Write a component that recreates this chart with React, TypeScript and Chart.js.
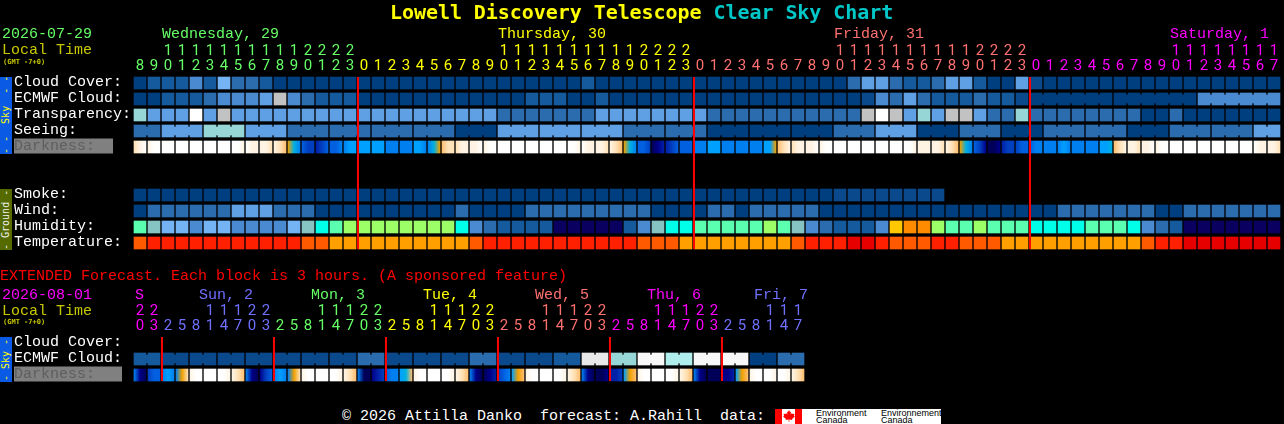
import React, { useEffect, useRef } from "react";
import { Chart, registerables } from "chart.js";

Chart.register(...registerables);

const MONO = '"Liberation Mono", "DejaVu Sans Mono", monospace';
const TITLE = '"DejaVu Sans Mono", monospace';
const DIGITS = 'Roboto, "DejaVu Sans Mono", sans-serif';

const GREEN = "#66ff66";
const YELLOW = "#ffff00";
const SALMON = "#ff7070";
const MAGENTA = "#ff00ff";
const VIOLET = "#7070ff";

// ---------- main forecast: one column per hour ----------
const mainHours = [8,9,10,11,12,13,14,15,16,17,18,19,20,21,22,23,0,1,2,3,4,5,6,7,8,9,10,11,12,13,14,15,16,17,18,19,20,21,22,23,0,1,2,3,4,5,6,7,8,9,10,11,12,13,14,15,16,17,18,19,20,21,22,23,0,1,2,3,4,5,6,7,8,9,10,11,12,13,14,15,16,17];
const mainDayLengths = [16, 24, 24, 18];
const mainDayColors = [GREEN, YELLOW, SALMON, MAGENTA];
const mainMidnights = [15.57, 39.57, 63.57];
const mainRowNames = ["Cloud Cover:", "ECMWF Cloud:", "Transparency:", "Seeing:", "Darkness:  ", "", "", "Smoke:", "Wind:", "Humidity:", "Temperature:"];

const skyPalette = ["#003f7f","#0a4a8c","#155a9c","#2b6cae","#4a8ad0","#5f9fe3","#74b4f4","#c2c2c2","#ffffff","#96d6d6","#e8e8e8","#f8f8f8","#b0eeee"];
const humidityPalette = ["#0a0060","#155a9c","#2b6cae","#4a8ad0","#74b4f4","#86c4c4","#00ffe8","#5affb0","#9cff68","#ffc800","#ff8c00"];
const temperaturePalette = ["#e60000","#ff2000","#ff5a00","#ffa000"];
const darknessPalette = ["#ffffff","#fff4e4","#ffe2b8","#ffbe70","#f0a000","#00b0e0","#00a0ff","#0080f0","#0060e0","#0040c0","#0020a8","#000088","#000058"];

const cloudCover = [0,2,2,2,4,2,6,3,3,2, 0,0,0,0,0,0,0,0,0,0, 0,0,0,0,0,0,0,0,0,0, 0,0,2,0,0,0,0,0,0,0, 0,0,0,0,0,0,0,0,0,0, 0,3,5,5,3,2,2,3,5,5, 2,0,0,5,1,0,0,0,0,0, 0,0,0,0,0,0,0,0,0,0, 0,0];
const ecmwfCloud = [0,0,2,2,2,3,4,4,4,5, 7,4,3,2,2,2,0,0,0,0, 0,0,0,0,0,0,0,0,2,2, 2,0,0,2,0,0,0,0,0,0, 0,0,0,0,0,0,0,0,0,0, 0,0,1,4,3,5,3,2,2,2, 3,2,2,1,0,0,0,0,0,0, 0,0,0,0,0,0,4,4,4,4, 4,4];
const ecmwfBlocks = [1,1,1,1,1,1,1,1,1,1,1,1,1,1,1,1,1,1,1,1,1,1,1,1,1,1,1,1,1,1,1,1,1,1,1,1,1,1,1,1,1,1,1,1,1,1,1,1,1,1,1,1,1,1,1,1,1,1,1,1,1,1,1,1,6,6,6];
const transparency = [9,5,5,5,8,5,7,5,5,5, 5,5,5,5,5,5,5,5,5,5, 5,5,5,5,5,5,3,3,3,3, 3,3,3,5,5,5,5,5,5,5, 5,3,3,3,3,3,3,3,3,3, 3,3,7,8,7,5,9,5,7,7, 5,3,3,9,3,3,3,3,3,3, 3,3,0,0,3,0,0,0,0,0, 0,0];
const seeingBlocks = [2,3,3,3,3,3,3,3,3,3,3,3,3,3,3,3,3,3,3,3,3,3,3,3,3,3,3,2];
const seeingLevels = [3,5,9,5,3,3,3,3,0,5,5,5,3,3,0,0,0,3,5,0,3,0,3,3,0,3,3,5];
const smoke = [0,0,0,0,0,0,0,0,0,0, 0,0,0,0,0,0,0,0,0,0, 0,0,0,0,0,0,0,0,0,0, 0,0,0,0,0,0,0,0,0,0, 0,0,0,0,0,0,0,0,0,0, 1,1,1,1,1,1,1,1];
const wind = [0,3,3,3,3,3,3,5,5,5, 3,3,3,0,0,0,0,0,0,0, 0,0,0,3,0,0,0,0,3,3, 3,3,3,3,3,3,3,0,0,0, 0,3,3,0,3,3,3,3,3,0, 0,0,0,0,0,0,0,0,0,0, 0,0,0,0,0,0,3,3,3,3, 3,3,3,0,0,3,3,3,3,3, 3,3];
const humidity = [7,5,4,4,3,4,4,3,3,3, 3,4,5,6,7,8,8,8,8,8, 8,8,8,6,3,2,1,1,1,1, 0,0,0,0,0,1,3,5,6,6, 7,7,7,7,7,8,7,5,3,2, 1,1,1,3,9,10,10,8,7,7, 8,7,7,7,6,6,6,6,7,7, 7,6,3,2,1,0,0,0,0,0, 0,0];
const temperature = [2,1,1,1,1,1,1,1,1,1, 1,1,2,2,3,3,3,3,3,3, 3,3,3,3,2,1,1,1,1,1, 1,1,1,1,1,1,2,2,2,3, 3,3,3,3,3,3,3,2,1,1, 1,0,0,1,2,2,2,1,1,2, 2,2,3,3,3,3,3,3,3,3, 3,3,2,1,1,0,0,0,0,0, 0,0];
// Left, middle and right of every darkness cell, as darknessPalette levels.
const darkness = [
  [2,1,0],[1,0,0],[0,0,0],[0,0,0],[0,0,0],[0,0,0],[0,0,0],[0,0,1],[0,1,1],[1,1,2],[1,2,3],[4,5,7],[8,9,9],[10,9,8],[8,8,7],[7,6,6],
  [6,6,6],[6,6,6],[7,7,7],[7,7,7],[6,6,7],[7,5,4],[3,2,2],[2,1,1],[1,1,0],[1,0,0],[0,0,0],[0,0,0],[0,0,0],[0,0,0],[0,0,0],[0,0,1],[0,1,1],[1,1,2],[1,2,3],[4,5,7],[8,8,9],[12,11,10],[10,9,8],[8,8,8],
  [7,7,7],[6,6,6],[7,7,7],[7,7,7],[7,7,7],[6,6,4],[3,2,1],[2,1,1],[1,1,0],[1,0,0],[0,0,0],[0,0,0],[0,0,0],[0,0,0],[0,0,0],[0,0,1],[1,1,1],[1,1,2],[1,2,3],[4,5,7],[8,9,11],[12,12,11],[10,9,9],[9,8,8],
  [8,7,7],[7,7,7],[7,6,7],[7,7,7],[7,7,7],[6,6,5],[3,2,1],[1,1,2],[1,1,0],[1,0,0],[0,0,0],[0,0,0],[0,0,0],[0,0,0],[0,0,0],[0,0,0],[0,1,1],[1,1,2],
];

// ---------- extended forecast: one column per 3-hour step ----------
const extHours = [20,23,2,5,8,11,14,17,20,23,2,5,8,11,14,17,20,23,2,5,8,11,14,17,20,23,2,5,8,11,14,17,20,23,2,5,8,11,14,17,20,23,2,5,8,11,14,17];
const extDayLengths = [2, 8, 8, 8, 8, 8, 6];
const extDayColors = [MAGENTA, VIOLET, GREEN, YELLOW, SALMON, MAGENTA, VIOLET];
const extMidnights = [1.57, 9.57, 17.57, 25.57, 33.57, 41.57];
const extRowNames = ["Cloud Cover:", "ECMWF Cloud:", "Darkness:   "];
const extBlocks = [2,2,2,2,2,2,2,2,2,2,2,2,2,2,2,2,2,2,2,2,2,2,2,2];
const extCloudLevels = [2,1,1,1,1,1,1,1,3,1,1,1,3,1,1,2,10,9,11,12,11,11,0,3];
const extDarkness = [
  [7,11,12],[9,8,8],[7,6,7],[7,4,2],[1,0,0],[0,0,0],[0,0,1],[1,2,3],
  [7,11,12],[11,9,8],[7,6,7],[7,4,2],[1,0,0],[0,0,0],[0,0,1],[1,2,3],
  [7,12,12],[11,10,9],[8,7,7],[6,5,3],[1,0,0],[0,0,0],[0,0,1],[1,2,3],
  [7,11,12],[12,11,10],[9,8,7],[6,4,3],[1,0,0],[0,0,0],[0,0,1],[1,2,3],
  [7,11,12],[12,12,11],[10,10,9],[6,4,3],[1,0,0],[0,0,0],[0,0,1],[1,2,3],
  [7,11,12],[12,12,12],[11,11,10],[6,4,3],[1,0,0],[0,0,1],[0,0,1],[1,2,3],
];

function expand(blocks: number[], levels: any[]) {
  const out: any[] = [];
  blocks.forEach((n, b) => { for (let k = 0; k < n; k++) out.push(levels[b]); });
  return out;
}

const CELL = 0.375;
const LINK = 0.25;

function cellRow(row: number, levels: number[], palette: string[]) {
  return {
    type: "bar",
    order: 2,
    barThickness: 12,
    backgroundColor: levels.map((l) => palette[l]),
    data: levels.map((_, i) => ({ x: i, y: [row - CELL, row + CELL] })),
  };
}

function linkRow(row: number, blocks: number[], levels: number[], palette: string[]) {
  const data: any[] = [];
  const colors: string[] = [];
  let col = 0;
  blocks.forEach((n, b) => {
    for (let k = 0; k < n - 1; k++) {
      data.push({ x: col + k + 0.5, y: [row - LINK, row + LINK] });
      colors.push(palette[levels[b]]);
    }
    col += n;
  });
  return { type: "bar", order: 2, barThickness: 2, backgroundColor: colors, data };
}

function darknessRow(row: number, samples: number[][]) {
  return {
    type: "bar",
    order: 2,
    barThickness: 12,
    backgroundColor: (c: any) => {
      const s = samples[c.dataIndex];
      const sx = c.chart.scales.x;
      if (!s || !sx || !isFinite(sx.left)) return darknessPalette[0];
      const mid = sx.getPixelForValue(c.dataIndex);
      const g = c.chart.ctx.createLinearGradient(mid - 6, 0, mid + 6, 0);
      s.forEach((l, i) => g.addColorStop(i / (s.length - 1), darknessPalette[l]));
      return g;
    },
    data: samples.map((_, i) => ({ x: i, y: [row - CELL, row + CELL] })),
  };
}

function midnightLines(cols: number[], lastRow: number) {
  return cols.map((x) => ({
    type: "line",
    order: 0,
    borderColor: "#ff0000",
    borderWidth: 2,
    pointRadius: 0,
    data: [{ x, y: -CELL }, { x, y: lastRow + CELL }],
  }));
}

function makeChart(canvas: HTMLCanvasElement, hours: number[], tickColors: string[], rowNames: string[], datasets: any[]) {
  const rows = rowNames.length;
  const columns = hours.length;
  const darkRow = rowNames.findIndex((n) => n.startsWith("Darkness"));
  return new Chart(canvas, {
    type: "bar",
    data: { datasets },
    options: {
      animation: false,
      responsive: false,
      devicePixelRatio: 1,
      layout: { autoPadding: false, padding: { left: 14, top: 0, bottom: 0, right: 1284 - 133 - columns * 14 } },
      plugins: { legend: { display: false }, tooltip: { enabled: false }, title: { display: false } },
      datasets: { bar: { grouped: false, borderWidth: 0 } },
      scales: {
        x: {
          type: "linear",
          position: "top",
          offset: false,
          min: -0.5,
          max: columns - 0.5,
          grid: { display: false, offset: false, drawTicks: false },
          border: { display: false },
          afterBuildTicks: (s: any) => { s.ticks = hours.map((_, i) => ({ value: i })); },
          afterFit: (s: any) => { s.height = 75; s.paddingLeft = 0; s.paddingRight = 0; },
          ticks: {
            autoSkip: false,
            maxRotation: 0,
            minRotation: 0,
            padding: 1,
            font: { family: DIGITS, size: 15, weight: "400", lineHeight: 1 },
            color: (c: any) => tickColors[c.index],
            callback: (_v: any, i: number) => {
              const h = hours[i];
              return [h >= 10 ? String(Math.floor(h / 10)) : " ", String(h % 10)];
            },
          },
        },
        y: { type: "linear", display: false, reverse: true, offset: false, min: -0.5, max: rows - 0.5 },
        rowLabels: {
          type: "linear",
          position: "left",
          reverse: true,
          offset: false,
          min: -0.4375,
          max: rows - 0.4375,
          grid: { display: false, drawTicks: false },
          border: { display: false },
          afterBuildTicks: (s: any) => { s.ticks = rowNames.map((_, i) => ({ value: i })); },
          afterFit: (s: any) => { s.width = 119; s.paddingTop = 0; s.paddingBottom = 0; },
          ticks: {
            autoSkip: false,
            crossAlign: "far",
            padding: 0,
            font: { family: MONO, size: 15, lineHeight: 1 },
            color: (c: any) => (c.index === darkRow ? "#5e5e5e" : "#ffffff"),
            showLabelBackdrop: (c: any) => c.index === darkRow,
            backdropColor: "#808080",
            backdropPadding: { top: 0, bottom: 0, left: 0, right: 0 },
            callback: (v: any) => rowNames[v],
          },
        },
      },
    } as any,
  });
}

function Txt({ x, cy, color, size = 15, bold, family = MONO, text }: any) {
  return (
    <div style={{ position: "absolute", left: x, top: cy - size / 2 - 1, height: size + 2, lineHeight: `${size + 2}px`, color, fontFamily: family, fontSize: size, fontWeight: bold ? 700 : 400, whiteSpace: "pre" }}>
      {text}
    </div>
  );
}

function SideTag({ top, height, bg, color, text }: any) {
  return (
    <div style={{ position: "absolute", left: 0, top, width: 12, height, background: bg, color, fontFamily: TITLE, fontSize: 10, lineHeight: "12px", writingMode: "vertical-rl", transform: "rotate(180deg)", textAlign: "center", whiteSpace: "pre", overflow: "hidden" }}>
      {text}
    </div>
  );
}

function expandBlockLevels(blocks: number[], perColumn: number[]) {
  let col = 0;
  return blocks.map((n) => {
    const level = perColumn[col];
    col += n;
    return level;
  });
}

export default function App() {
  const mainRef = useRef<HTMLCanvasElement>(null);
  const extRef = useRef<HTMLCanvasElement>(null);

  useEffect(() => {
    const main = makeChart(mainRef.current!, mainHours, expand(mainDayLengths, mainDayColors), mainRowNames, [
      ...midnightLines(mainMidnights, 10),
      cellRow(0, cloudCover, skyPalette),
      cellRow(1, ecmwfCloud, skyPalette),
      linkRow(1, ecmwfBlocks, expandBlockLevels(ecmwfBlocks, ecmwfCloud), skyPalette),
      cellRow(2, transparency, skyPalette),
      cellRow(3, expand(seeingBlocks, seeingLevels), skyPalette),
      linkRow(3, seeingBlocks, seeingLevels, skyPalette),
      darknessRow(4, darkness),
      cellRow(7, smoke, skyPalette),
      cellRow(8, wind, skyPalette),
      cellRow(9, humidity, humidityPalette),
      cellRow(10, temperature, temperaturePalette),
    ]);
    const ext = makeChart(extRef.current!, extHours, expand(extDayLengths, extDayColors), extRowNames, [
      ...midnightLines(extMidnights, 2),
      cellRow(1, expand(extBlocks, extCloudLevels), skyPalette),
      linkRow(1, extBlocks, extCloudLevels, skyPalette),
      darknessRow(2, extDarkness),
    ]);
    return () => { main.destroy(); ext.destroy(); };
  }, []);

  return (
    <div style={{ position: "absolute", left: 0, top: 0, width: 1284, height: 424, background: "#000", overflow: "hidden" }}>
      <canvas ref={mainRef} width={1284} height={251} style={{ position: "absolute", left: 0, top: 0, width: 1284, height: 251 }} />
      <canvas ref={extRef} width={1284} height={123} style={{ position: "absolute", left: 0, top: 260, width: 1284, height: 123 }} />

      <div style={{ position: "absolute", left: 390, top: 0, height: 24, lineHeight: "24px", fontFamily: TITLE, fontSize: 20, letterSpacing: "-0.06px", fontWeight: 700, whiteSpace: "pre", color: "#ffff00" }}>
        Lowell Discovery Telescope <span style={{ color: "#00c8c8" }}>Clear Sky Chart</span>
      </div>

      <Txt x={2} cy={34} color={GREEN} text="2026-07-29" />
      <Txt x={2} cy={50} color="#c8c800" text="Local Time" />
      <Txt x={3} cy={62} color="#c8c800" size={7} bold family={TITLE} text="(GMT -7+0)" />
      <Txt x={162} cy={34} color={GREEN} text="Wednesday, 29" />
      <Txt x={498} cy={34} color={YELLOW} text="Thursday, 30" />
      <Txt x={834} cy={34} color={SALMON} text="Friday, 31" />
      <Txt x={1170} cy={34} color={MAGENTA} text="Saturday, 1" />

      <SideTag top={77} height={77} bg="#0a5ae6" color="#ffff00" text={"- -  Sky  - -"} />
      <SideTag top={189} height={61} bg="#556b00" color="#f0f0f0" text={"- Ground -"} />
      <SideTag top={337} height={45} bg="#0a5ae6" color="#ffff00" text={"- Sky -"} />

      <Txt x={0} cy={276} color="#ff0000" text="EXTENDED Forecast. Each block is 3 hours. (A sponsored feature)" />
      <Txt x={2} cy={295} color={MAGENTA} text="2026-08-01" />
      <Txt x={2} cy={311} color="#c8c800" text="Local Time" />
      <Txt x={3} cy={322} color="#c8c800" size={7} bold family={TITLE} text="(GMT -7+0)" />
      <Txt x={135} cy={295} color={MAGENTA} text="S" />
      <Txt x={199} cy={295} color={VIOLET} text="Sun, 2" />
      <Txt x={311} cy={295} color={GREEN} text="Mon, 3" />
      <Txt x={423} cy={295} color={YELLOW} text="Tue, 4" />
      <Txt x={535} cy={295} color={SALMON} text="Wed, 5" />
      <Txt x={647} cy={295} color={MAGENTA} text="Thu, 6" />
      <Txt x={754} cy={295} color={VIOLET} text="Fri, 7" />

      <Txt x={342} cy={416} color="#ffffff" text="© 2026 Attilla Danko  forecast: A.Rahill  data:" />
      <div style={{ position: "absolute", left: 775, top: 409, width: 166, height: 15, background: "#fff" }} />
      <div style={{ position: "absolute", left: 775, top: 409, width: 7, height: 15, background: "#f00" }} />
      <div style={{ position: "absolute", left: 795, top: 409, width: 7, height: 15, background: "#f00" }} />
      <svg width="12" height="12" viewBox="0 0 12 12" style={{ position: "absolute", left: 782.5, top: 410 }}>
        <polygon fill="#f00" points="6,0 7,2 8,1.5 7.6,4.5 9,3 9.5,4 11.5,3.8 11,6 12,6.6 9,9 9.3,10 6.3,9.6 6.3,12 5.7,12 5.7,9.6 2.7,10 3,9 0,6.6 1,6 0.5,3.8 2.5,4 3,3 4.4,4.5 4,1.5 5,2" />
      </svg>
      <Txt x={816} cy={413} color="#000" size={9} family="Liberation Sans" text="Environment" />
      <Txt x={816} cy={420} color="#000" size={9} family="Liberation Sans" text="Canada" />
      <Txt x={881} cy={413} color="#000" size={9} family="Liberation Sans" text="Environnement" />
      <Txt x={881} cy={420} color="#000" size={9} family="Liberation Sans" text="Canada" />
    </div>
  );
}
